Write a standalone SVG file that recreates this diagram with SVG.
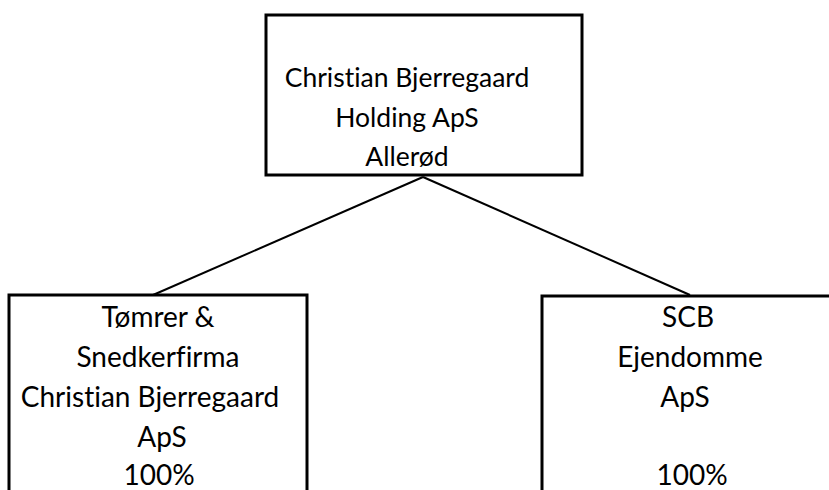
<svg xmlns="http://www.w3.org/2000/svg" width="829" height="490" viewBox="0 0 829 490">
<style>
.box{fill:#fff;stroke:#000;stroke-width:3}
.conn{stroke:#000;stroke-width:2;fill:none}
text{font-family:Lato,"Open Sans",sans-serif;font-size:28px;fill:#000;text-anchor:middle;font-variant-ligatures:none;font-feature-settings:"liga" 0}
.top{font-size:26.5px}
</style>
<rect width="829" height="490" fill="#fff"/>
<g id="connectors">
<line class="conn" x1="423" y1="177" x2="153" y2="295"/>
<line class="conn" x1="423" y1="177" x2="690" y2="295"/>
</g>
<g id="holding">
<rect class="box" x="266" y="15" width="316" height="160"/>
<text class="top" x="407" y="87">Christian Bjerregaard</text>
<text class="top" x="407" y="127">Holding ApS</text>
<text class="top" x="407" y="166">Allerød</text>
</g>
<g id="toemrer">
<rect class="box" x="9" y="295" width="298" height="220"/>
<text x="158" y="327">Tømrer &amp;</text>
<text x="158" y="367">Snedkerfirma</text>
<text x="150" y="407">Christian Bjerregaard</text>
<text x="162" y="447">ApS</text>
<text x="159" y="485">100%</text>
</g>
<g id="scb">
<rect class="box" x="542" y="296" width="300" height="220"/>
<text x="688" y="327">SCB</text>
<text x="690" y="367">Ejendomme</text>
<text x="685" y="407">ApS</text>
<text x="692" y="485">100%</text>
</g>
</svg>
